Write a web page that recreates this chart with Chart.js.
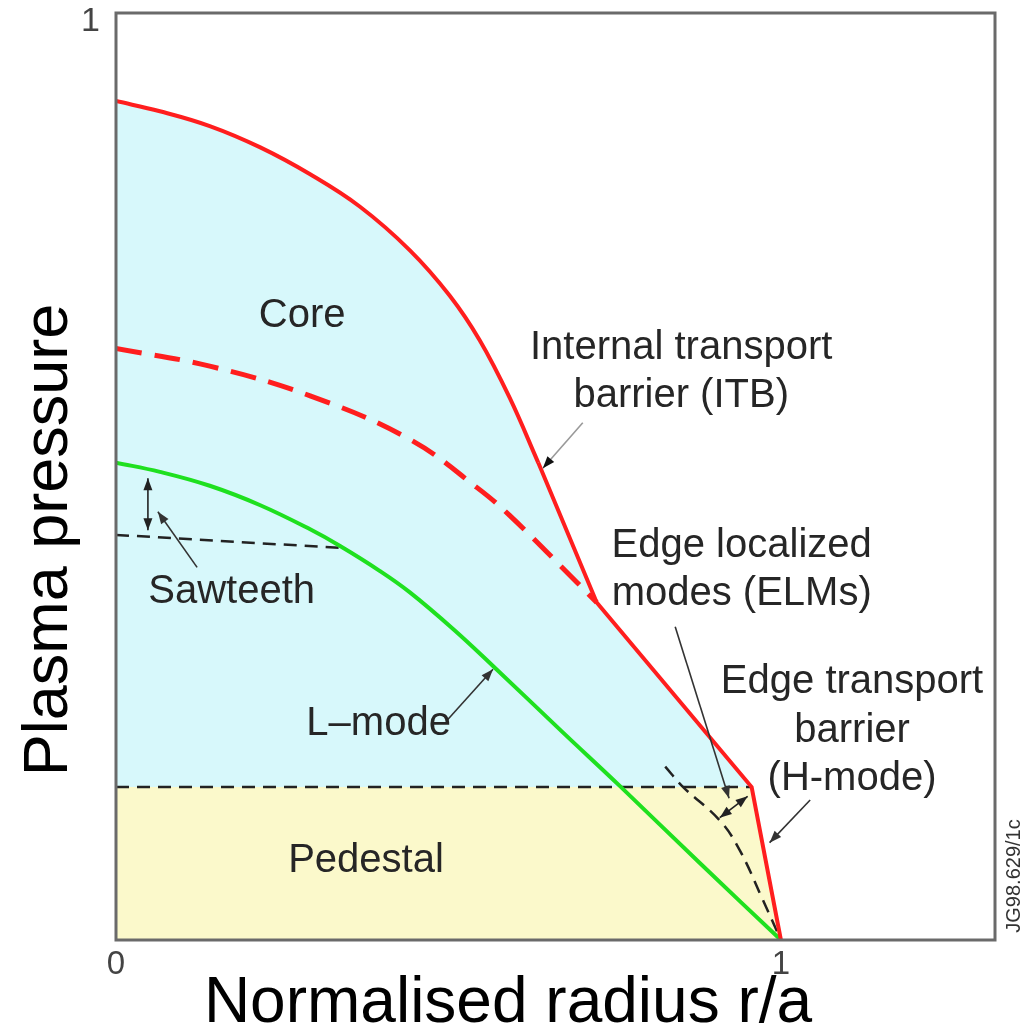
<!DOCTYPE html>
<html><head><meta charset="utf-8">
<script src="https://cdn.jsdelivr.net/npm/chart.js@4.4.1/dist/chart.umd.min.js"></script>
<style>html,body{margin:0;padding:0;background:#fff}#wrap{width:1028px;height:1032px;position:relative}</style>
</head><body><div id="wrap"><canvas id="c"></canvas></div>
<script>
// ---- data (x = r/a, y = normalised pressure) ----
const itbCoreR = [0, 0.066, 0.141, 0.217, 0.292, 0.367, 0.442, 0.502, 0.547, 0.592, 0.635];
const itbCoreP = [0.905, 0.894, 0.878, 0.855, 0.826, 0.791, 0.744, 0.695, 0.647, 0.585, 0.515];
const itbEdgeR = [0.635, 0.723, 0.956, 1.0];
const itbEdgeP = [0.515, 0.364, 0.165, 0];
const itbDashR = [0, 0.141, 0.292, 0.442, 0.543, 0.592, 0.693, 0.723];
const itbDashP = [0.638, 0.619, 0.587, 0.540, 0.488, 0.458, 0.386, 0.364];
const lmodeR = [0, 0.066, 0.141, 0.217, 0.292, 0.337, 0.397, 0.442, 0.507, 0.567, 0.672, 0.758, 0.878, 1.0];
const lmodeP = [0.515, 0.505, 0.490, 0.469, 0.443, 0.425, 0.398, 0.375, 0.3355, 0.2956, 0.224, 0.166, 0.083, 0];
const pedestalR = [0, 0.956, 1.0];
const pedestalP = [0.165, 0.165, 0];
const sawR = [0, 0.337];
const sawP = [0.437, 0.423];
const elmR = [0.826, 0.853, 0.908, 0.938, 0.973, 1.0];
const elmP = [0.187, 0.165, 0.129, 0.097, 0.043, 0];
const xTickValues = [0, 1];
const yTickValues = [1];
const xTickLabels = ['0', '1'];
const yTickLabels = ['1'];

const pts = (xs, ys) => xs.map((v, i) => ({x: v, y: ys[i]}));
const FAMILY = '"Liberation Sans", Arial, Helvetica, sans-serif';
const NONE = 'rgba(0,0,0,0)';

const annot = {
  id: 'annot',
  afterDatasetsDraw(chart, args, o) {
    const {ctx, chartArea: a, scales: {x, y}} = chart;
    ctx.save();
    ctx.strokeStyle = o.frameColor; ctx.lineWidth = 3;
    ctx.strokeRect(a.left, a.top, a.right - a.left, a.bottom - a.top);
    const head = (x0, y0, x1, y1, col) => {
      const ang = Math.atan2(y1 - y0, x1 - x0), L = 12, W = 4.5;
      const bx = x1 - L * Math.cos(ang), by = y1 - L * Math.sin(ang);
      ctx.fillStyle = col; ctx.beginPath();
      ctx.moveTo(x1, y1);
      ctx.lineTo(bx + W * Math.sin(ang), by - W * Math.cos(ang));
      ctx.lineTo(bx - W * Math.sin(ang), by + W * Math.cos(ang));
      ctx.closePath(); ctx.fill();
    };
    for (const ar of o.arrows) {
      const x0 = x.getPixelForValue(ar.from[0]), y0 = y.getPixelForValue(ar.from[1]);
      const x1 = x.getPixelForValue(ar.to[0]), y1 = y.getPixelForValue(ar.to[1]);
      ctx.strokeStyle = ar.color; ctx.lineWidth = 1.6; ctx.setLineDash([]);
      ctx.beginPath(); ctx.moveTo(x0, y0); ctx.lineTo(x1, y1); ctx.stroke();
      head(x0, y0, x1, y1, ar.headColor || ar.color);
      if (ar.both) head(x1, y1, x0, y0, ar.headColor || ar.color);
    }
    ctx.fillStyle = o.textColor; ctx.textAlign = 'center'; ctx.textBaseline = 'alphabetic';
    ctx.font = o.textSize + 'px ' + FAMILY;
    for (const t of o.texts) {
      ctx.fillText(t.text, x.getPixelForValue(t.at[0]), y.getPixelForValue(t.at[1]));
    }
    for (const t of o.titles) {
      ctx.save();
      ctx.translate(t.px, t.py); ctx.rotate(t.rot || 0);
      ctx.font = t.size + 'px ' + FAMILY; ctx.fillStyle = t.color;
      ctx.fillText(t.text, 0, 0);
      ctx.restore();
    }
    ctx.restore();
  }
};

const RED = '#ff1e1e';
const BLUE = '#d7f8fb';
new Chart(document.getElementById('c'), {
  type: 'line',
  data: {
    datasets: [
      {label: 'Pedestal', data: pts(pedestalR, pedestalP), order: 0, borderWidth: 0,
       borderColor: NONE, backgroundColor: '#fbf9cb', fill: 'origin', pointRadius: 0},
      {label: 'ITB core', data: pts(itbCoreR, itbCoreP), order: 1, borderColor: RED, borderWidth: 4,
       backgroundColor: BLUE, fill: 'origin', tension: 0.4, pointRadius: 0},
      {label: 'ITB edge area', data: pts([itbCoreR[9]].concat(itbEdgeR), [itbCoreP[9]].concat(itbEdgeP)),
       order: 2, borderColor: NONE, borderWidth: 0, backgroundColor: BLUE, fill: 'origin', tension: 0, pointRadius: 0},
      {label: 'ITB edge', data: pts(itbEdgeR, itbEdgeP), order: 1, borderColor: RED, borderWidth: 4,
       fill: false, tension: 0, borderJoinStyle: 'miter', pointRadius: 0},
      {label: 'Without ITB', data: pts(itbDashR, itbDashP), order: 3, borderColor: RED, borderWidth: 5,
       borderDash: [26, 13], fill: false, tension: 0.4, pointRadius: 0},
      {label: 'L-mode', data: pts(lmodeR, lmodeP), order: 4, borderColor: '#1fe01f', borderWidth: 4,
       fill: false, tension: 0.4, pointRadius: 0},
      {label: 'Pedestal top', data: pts(pedestalR.slice(0, 2), pedestalP.slice(0, 2)), order: 5,
       borderColor: '#222', borderWidth: 2.5, borderDash: [13, 8], fill: false, pointRadius: 0},
      {label: 'Sawteeth', data: pts(sawR, sawP), order: 5, borderColor: '#222', borderWidth: 2.5,
       borderDash: [13, 8], fill: false, pointRadius: 0},
      {label: 'ELMs', data: pts(elmR, elmP), order: 5, borderColor: '#222', borderWidth: 2.5,
       borderDash: [13, 8], fill: false, tension: 0.4, pointRadius: 0}
    ]
  },
  options: {
    responsive: true, maintainAspectRatio: false, animation: false,
    layout: {padding: {left: 0, top: 13, right: 33, bottom: 0}},
    scales: {
      x: {type: 'linear', min: 0, max: 1.322,
          grid: {display: false, drawTicks: false}, border: {display: false},
          afterBuildTicks: s => { s.ticks = xTickValues.map(v => ({value: v})); },
          ticks: {autoSkip: false, maxRotation: 0, padding: 5, color: '#444',
                  font: {size: 33, family: FAMILY},
                  callback: v => xTickLabels[xTickValues.indexOf(v)]},
          afterFit: s => { s.height = 92; s.paddingLeft = 0; s.paddingRight = 0; }},
      y: {type: 'linear', min: 0, max: 1,
          grid: {display: false, drawTicks: false}, border: {display: false},
          afterBuildTicks: s => { s.ticks = yTickValues.map(v => ({value: v})); },
          ticks: {autoSkip: false, padding: 16, labelOffset: 9, color: '#444',
                  font: {size: 34, family: FAMILY},
                  callback: v => yTickLabels[yTickValues.indexOf(v)]},
          afterFit: s => { s.width = 116; s.paddingTop = 0; s.paddingBottom = 0; }}
    },
    plugins: {
      legend: {display: false}, tooltip: {enabled: false},
      filler: {drawTime: 'beforeDatasetsDraw'},
      annot: {
        frameColor: '#6a6a6a', textColor: '#262626', textSize: 40,
        texts: [
          {text: 'Core', at: [0.280, 0.661]},
          {text: 'Internal transport', at: [0.850, 0.627]},
          {text: 'barrier (ITB)', at: [0.850, 0.575]},
          {text: 'Edge localized', at: [0.941, 0.413]},
          {text: 'modes (ELMs)', at: [0.941, 0.361]},
          {text: 'Edge transport', at: [1.107, 0.266]},
          {text: 'barrier', at: [1.107, 0.214]},
          {text: '(H-mode)', at: [1.107, 0.162]},
          {text: 'Sawteeth', at: [0.174, 0.364]},
          {text: 'L\u2013mode', at: [0.395, 0.221]},
          {text: 'Pedestal', at: [0.376, 0.073]}
        ],
        arrows: [
          {from: [0.702, 0.558], to: [0.642, 0.509], color: '#999', headColor: '#111'},
          {from: [0.048, 0.498], to: [0.048, 0.442], color: '#222', both: true},
          {from: [0.122, 0.402], to: [0.063, 0.462], color: '#333'},
          {from: [0.498, 0.237], to: [0.567, 0.292], color: '#333'},
          {from: [0.841, 0.338], to: [0.922, 0.153], color: '#333'},
          {from: [0.908, 0.132], to: [0.950, 0.155], color: '#222', both: true},
          {from: [1.044, 0.151], to: [0.983, 0.105], color: '#333'}
        ],
        titles: [
          {text: 'Plasma pressure', px: 67, py: 540, rot: -Math.PI / 2, size: 63, color: '#000'},
          {text: 'Normalised radius r/a', px: 508, py: 1022, rot: 0, size: 64, color: '#000'},
          {text: 'JG98.629/1c', px: 1020, py: 876, rot: -Math.PI / 2, size: 20, color: '#333'}
        ]
      }
    }
  },
  plugins: [annot]
});
</script></body></html>
